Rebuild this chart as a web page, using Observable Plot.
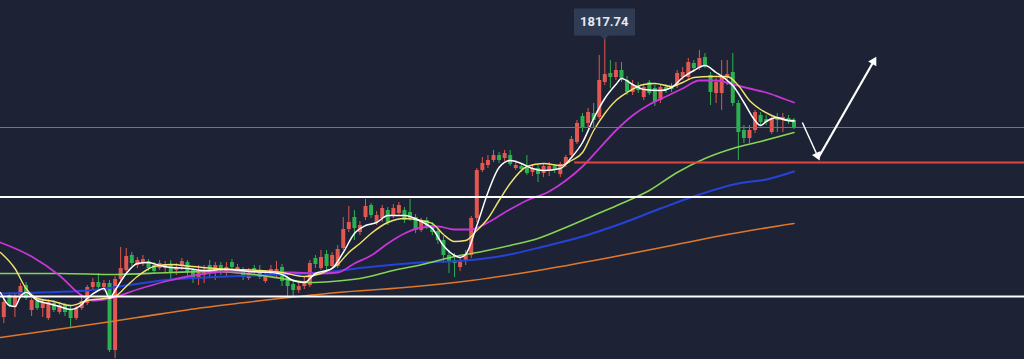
<!DOCTYPE html>
<html><head><meta charset="utf-8">
<style>html,body{margin:0;padding:0;background:#1d2234;overflow:hidden}#chart svg{display:block}</style>
<script src="https://cdn.jsdelivr.net/npm/d3@7"></script>
<script src="https://cdn.jsdelivr.net/npm/@observablehq/plot@0.6"></script>
</head><body><div id="chart"></div>
<script>
// ---- candle data (index = bar number) ----
const open = [1678.5,1689.5,1683.5,1689.5,1694.5,1682,1686.5,1683,1678,1685.5,1681,1684.5,1682,1678,1683,1685.5,1693.5,1696,1693.5,1695.5,1662,1697.5,1702,1709.5,1704.5,1705.5,1706.5,1704.5,1703,1703,
1704.5,1702,1704,1706,1702,1698.5,1699.5,1704.5,1701,1704.5,1701,1706,1702,1702,1698,1703,1701,1696.5,1700.5,1701,1703.5,1698,1695,1692,1694,1694.5,1708,1703,1710,1704,
1704,1713,1722.5,1728.5,1721,1728.5,1734.5,1726,1728,1732,1729.5,1730.5,1732,1731,1728.5,1722,1727,1724.5,1721.5,1717,1709.5,1707,1703.5,1706.5,1709.5,1728,1752,1754.5,1757,1759.5,
1758,1759.5,1753,1754,1753.5,1751,1753,1750.5,1752,1754,1750,1755,1759.5,1766,1779,1775.5,1780.5,1778.5,1796,1800.5,1798.5,1802,1797,1791,1794.5,1788.5,1796,1793,1787,1793.5,
1794,1794.5,1798.5,1798.5,1805.5,1803,1808.5,1799.5,1790.5,1790.5,1798,1801,1785.5,1772,1768,1772,1779.5,1777.5,1771,1778.5,1777,1778,1777];
const high = [1688,1691,1690,1695.5,1696,1688,1688,1687.5,1687.5,1687,1686,1685.5,1684,1684,1688.5,1694.5,1698,1700.5,1697,1697,1699,1713.5,1713,1711,1708.5,1709.5,1707.5,1706,1707,1706.5,
1707,1705.5,1708,1707,1703,1704.5,1704.5,1707,1706,1706,1706,1707.5,1705,1703.5,1703,1704.5,1704.5,1702,1704.5,1706.5,1705,1699,1697,1695.5,1698.5,1707,1709.5,1712,1712,1711,
1714.5,1728.5,1734,1732,1726.5,1737.5,1735.5,1731.5,1734.5,1733.5,1735,1736,1733.5,1737.5,1730,1728,1728.5,1726,1723,1719,1712,1710.5,1708,1712,1729,1753,1758.5,1759.5,1762,1761,
1762,1762,1757,1755.5,1759.5,1755,1754.5,1755.5,1756,1755,1756,1759.5,1769,1777,1780.5,1783,1785.5,1809.5,1817.74,1807,1806,1806,1799,1797,1796,1795,1797,1794.5,1795,1795,
1795.5,1802,1803.5,1808,1807,1812,1810.5,1801,1798,1807,1807,1810.5,1787,1774.5,1774.5,1782,1781,1779.5,1779.5,1780.5,1780.5,1779.5,1778];
const low = [1675.5,1683.5,1678.5,1688,1687,1679,1682,1678.5,1677,1681,1680,1679,1673,1677,1682,1684.5,1692.5,1692.5,1691.5,1661,1658,1696.5,1701,1704,1703,1704,1701.5,1700.5,1702,1701,
1697,1699.5,1702,1699,1695.5,1694.5,1695.5,1698.5,1697,1699.5,1699,1702,1700.5,1697,1697,1699,1697.5,1695.5,1699,1698.5,1694,1688,1689,1690.5,1692.5,1693.5,1703,1702,1702,1703,
1703,1712,1721,1717,1719.5,1727,1728,1724.5,1726,1724.5,1728,1729,1725.5,1726.5,1720.5,1721,1722.5,1719.5,1715,1705.5,1700.5,1698.5,1701.5,1704.5,1708,1726,1751,1753,1756,1755.5,
1756.5,1754,1752,1751,1749.5,1749,1746,1748.5,1749,1750.5,1748.5,1753.5,1758.5,1765,1771,1773.5,1773,1777.5,1794.5,1793,1797,1796,1789.5,1789.5,1790.5,1787,1789.5,1784,1785.5,1790.5,
1791,1793,1797,1797,1801,1802,1803,1784.5,1785.5,1782,1794.5,1784,1757,1765.5,1765.5,1770.5,1774.5,1774.5,1770,1771,1771,1775,1772.5];
const close = [1686,1684.5,1688.5,1694,1688,1687,1683,1685.5,1686,1682,1684.5,1681,1678,1683,1686.5,1693.5,1696,1693.5,1695.5,1662,1697.5,1703,1709,1705.5,1707,1707.5,1703,1701.5,1705.5,1705,
1701,1703.5,1706.5,1701,1698,1701,1702,1702,1704.5,1702,1703.5,1703.5,1703.5,1698.5,1700.5,1701,1698.5,1699.5,1702.5,1702.5,1696.5,1694,1692,1694,1696.5,1705.5,1705,1708.5,1704,1709.5,
1712.5,1722.5,1726,1723,1724.5,1734,1729.5,1729.5,1733,1726,1733,1734.5,1727,1728,1722,1727,1724,1721,1717,1709.5,1706,1705.5,1706,1709.5,1728,1752,1755.5,1757,1759.5,1757,
1760.5,1755,1754.5,1752.5,1750.5,1753,1750,1754,1754,1752,1755,1758.5,1767.5,1775.5,1773.5,1781,1777,1797,1800,1798.5,1802,1798,1791,1794.5,1792,1793.5,1790.5,1786,1793.5,1792,
1792.5,1800.5,1801,1806,1803,1808,1804.5,1791,1796,1798.5,1800,1785.5,1771,1768,1772,1781,1776,1776,1778,1777,1778.5,1776.5,1773.5];
const peakIndex = 108, peakLabel = "1817.74";

// ---- moving averages: sample bar index + value ----
const ma5I = [-0.6,1,2,3,4,6,8,10,12,14,15,17,18,19,20,22,24,26,28,30,33,36,40,44,48,50,52,54,56,58,59,61,63,65,67,69,72,75,77,79,81,82,83,85,87,89,91,93,95,97,100,102,104,106,108,110,111,113,115,118,120,122,124,126,128,130,131,133,135,136,137,139,141,142];
const ma5P = [1691,1684.5,1684,1689,1691,1687,1685.5,1684,1682.5,1685,1688,1692,1693,1688,1692,1700.5,1705.5,1706,1704.5,1703.5,1703,1702,1702.5,1701.5,1701,1700,1697,1696,1700.5,1702,1703,1711,1720.5,1724.5,1726,1729.5,1729.5,1726.5,1723,1714.5,1709.5,1708.5,1710,1724.5,1741,1753.5,1757,1755.5,1753,1752,1753,1758.5,1766,1778,1788,1795,1798,1795,1792.5,1792,1793.5,1798.5,1802,1804.5,1801,1797,1794.5,1786,1777,1774.5,1776.5,1778.5,1777,1777];
const ma10I = [-0.6,2,4,6,9,12,15,18,20,22,24,27,30,34,38,42,46,50,54,57,60,62,64,66,69,72,75,77,79,81,83,85,87,89,91,94,97,100,102,104,106,108,110,112,115,117,120,122,124,127,130,132,134,136,138,140,142];
const ma10P = [1711,1703,1693,1688,1686.5,1684.5,1687,1688,1689,1694,1699,1704,1705,1704,1703,1702.5,1702,1701,1699,1700.5,1705,1711,1715.5,1720.5,1726,1728,1727,1725.5,1720,1716.5,1717,1722,1728,1737,1745.5,1754,1755.5,1754.5,1757,1761,1772,1780.5,1787,1791,1795,1795.5,1794,1796,1798.5,1799,1799,1794.5,1787,1782.5,1779.5,1777.5,1776.5];
const ma30I = [-0.6,5,10,14,16,19,24,29,34,40,46,52,57,60,63,66,69,72,75,78,81,84,87,90,94,98,101,104,107,110,113,116,119,122,125,128,131,134,137,140,142];
const ma30P = [1716,1709,1699.5,1689.5,1687,1688,1692.5,1696.5,1699.5,1701.5,1701.5,1701,1700.5,1701,1705.5,1709.5,1715.5,1720.5,1723.5,1724,1722.5,1722.5,1726,1731,1737,1741.5,1747,1754,1763,1772,1779.5,1785,1789,1793,1797,1797,1795,1793,1791,1788,1786];
const ma60I = [-0.6,10,20,30,37,45,50,55,59,64,70,76,81,86,91,96,101,106,111,116,121,126,131,136,142];
const ma60P = [1700.5,1700.5,1700,1701,1701.5,1700,1698,1696,1696.5,1698,1702,1705.5,1709,1711.5,1714.5,1718,1723.5,1729.5,1735.5,1742,1751,1758,1763,1766.5,1771];
const ma120I = [-0.6,15,30,40,50,57,65,75,83,90,97,104,111,118,125,132,137,142];
const ma120P = [1690.5,1692,1697.5,1699,1700,1701,1703.5,1706,1707,1709.5,1714,1719,1725.5,1733,1740,1745.5,1747.5,1751.5];
const ma200I = [-0.6,12,24,36,48,60,72,84,96,108,120,130,142];
const ma200P = [1668.5,1673.5,1678.5,1683.5,1687.5,1691,1693.5,1697,1702,1708,1714.5,1720,1725.5];

// ---- horizontal levels ----
const levelGreen = 1773.5;
const levelRed = 1756, levelRedFrom = 102.6;
const levelsWhite = [1738.8, 1689];

// ---- projected path arrows ----
const arrowFromI = [143.5, 146.4], arrowFromP = [1776, 1758.5];
const arrowToI = [146.2, 156.3], arrowToP = [1759.5, 1806.5];
const arrowWidth = [1.5, 2.2];

const W = 1024, H = 359;
const xMin = -0.593, xMax = 183.42, yMin = 1657.5, yMax = 1837;

const UP = "#e2574f", DOWN = "#2eb051";
const candles = open.map((o, i) => ({i, o, h: high[i], l: low[i], c: close[i], col: close[i] >= o ? UP : DOWN}));
const series = (I, P) => I.map((i, k) => ({i, p: P[k]}));
// screen-space direction of each arrow (for rotating its filled head)
const sx = (i) => (i - xMin) / (xMax - xMin) * W;
const sy = (p) => (yMax - p) / (yMax - yMin) * H;
const arrows = arrowFromI.map((x, k) => {
  const dx = sx(arrowToI[k]) - sx(x), dy = sy(arrowToP[k]) - sy(arrowFromP[k]);
  return {x1: x, y1: arrowFromP[k], x2: arrowToI[k], y2: arrowToP[k], w: arrowWidth[k],
          rot: Math.atan2(dx, -dy) * 180 / Math.PI};
});
const lineOpts = (stroke, w) => ({x: "i", y: "p", stroke, strokeWidth: w, curve: "monotone-x"});

const chart = Plot.plot({
  width: W, height: H, margin: 0,
  style: {background: "#1d2234", color: "#e6e9f2", fontFamily: "Roboto, 'DejaVu Sans', sans-serif"},
  x: {domain: [xMin, xMax], axis: null},
  y: {domain: [yMin, yMax], axis: null},
  color: {type: "identity"},
  marks: [
    Plot.ruleX(candles, {x: "i", y1: "l", y2: "h", stroke: "col", strokeWidth: 1}),
    Plot.ruleX(candles, {x: "i", y1: "o", y2: "c", stroke: "col", strokeWidth: 4}),
    Plot.line(series(ma200I, ma200P), lineOpts("#e0782c", 1.6)),
    Plot.line(series(ma120I, ma120P), lineOpts("#2443d9", 2)),
    Plot.line(series(ma60I, ma60P), lineOpts("#86d455", 1.6)),
    Plot.line(series(ma30I, ma30P), lineOpts("#c636d8", 1.8)),
    Plot.line(series(ma10I, ma10P), lineOpts("#f2e46e", 1.4)),
    Plot.line(series(ma5I, ma5P), lineOpts("#ffffff", 1.5)),
    Plot.ruleY([levelGreen], {stroke: "#3f9a52", strokeWidth: 1.3, shapeRendering: "crispEdges"}),
    Plot.ruleY([levelRed], {x1: levelRedFrom, x2: xMax, stroke: "#e0463f", strokeWidth: 2}),
    Plot.ruleY(levelsWhite, {stroke: "#ffffff", strokeWidth: 2}),
    Plot.link(arrows, {x1: "x1", y1: "y1", x2: "x2", y2: "y2", stroke: "#ffffff", strokeWidth: "w"}),
    Plot.dot(arrows, {x: "x2", y: "y2", symbol: "triangle2", r: 4.5, fill: "#ffffff", stroke: "none", rotate: "rot"}),
    Plot.tip([{i: peakIndex, p: high[peakIndex]}], {x: "i", y: "p", title: () => peakLabel, anchor: "bottom",
      fill: "#303c54", stroke: "none", pointerSize: 8, textPadding: 6, fontSize: 13, fontWeight: "bold", pathFilter: "none"})
  ]
});
document.getElementById("chart").append(chart);
</script>
</body></html>
